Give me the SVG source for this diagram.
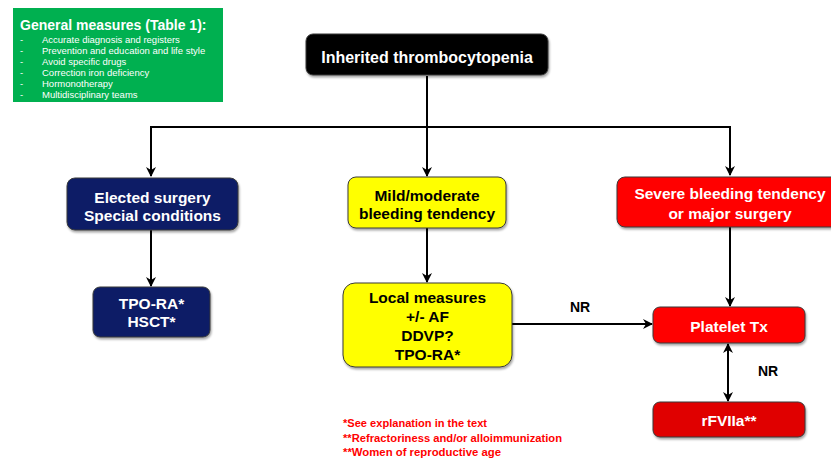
<svg xmlns="http://www.w3.org/2000/svg" width="831" height="459" viewBox="0 0 831 459">
<style>
.box{stroke:#3a3a3a;stroke-width:1}
.t{font-family:"Liberation Sans",Arial,sans-serif;font-weight:bold;font-size:15.5px;text-anchor:middle}
.w{fill:#ffffff}
.k{fill:#000000}
.item{font-family:"Liberation Sans",Arial,sans-serif;font-size:9.5px;fill:#ffffff}
.fn{font-family:"Liberation Sans",Arial,sans-serif;font-weight:bold;font-size:11px;fill:#ff0000}
.ln{fill:none;stroke:#000;stroke-width:2}
.nr{font-family:"Liberation Sans",Arial,sans-serif;font-weight:bold;font-size:14px;fill:#000;text-anchor:middle}
</style>
<defs>
<marker id="ah" viewBox="0 0 10 10" refX="9" refY="5" markerWidth="5" markerHeight="5" orient="auto-start-reverse" markerUnits="strokeWidth">
<path d="M0,0 L10,5 L0,10 L3,5 Z" fill="#000"/>
</marker>
<filter id="sh" x="-10%" y="-10%" width="120%" height="130%">
<feDropShadow dx="1" dy="2" stdDeviation="1.2" flood-color="#000" flood-opacity="0.35"/>
</filter>
</defs>
<rect width="831" height="459" fill="#ffffff"/>

<g id="general-measures">
<rect x="13" y="8" width="210" height="94" fill="#00b050"/>
<text x="20" y="30" style="font-family:'Liberation Sans',Arial,sans-serif;font-weight:bold;font-size:14px;fill:#fff">General measures (Table 1):</text>
<g class="item">
<text x="20" y="42.5">-</text><text x="42" y="42.5">Accurate diagnosis and registers</text>
<text x="20" y="53.5">-</text><text x="42" y="53.5">Prevention and education and life style</text>
<text x="20" y="64.5">-</text><text x="42" y="64.5">Avoid specific drugs</text>
<text x="20" y="75.5">-</text><text x="42" y="75.5">Correction iron deficiency</text>
<text x="20" y="86.5">-</text><text x="42" y="86.5">Hormonotherapy</text>
<text x="20" y="98">-</text><text x="42" y="98">Multidisciplinary teams</text>
</g>
</g>

<g id="connectors">
<line class="ln" x1="427" y1="76" x2="427" y2="127"/>
<line class="ln" x1="150" y1="127" x2="731" y2="127"/>
<line class="ln" x1="151" y1="127" x2="151" y2="176" marker-end="url(#ah)"/>
<line class="ln" x1="427" y1="127" x2="427" y2="176" marker-end="url(#ah)"/>
<line class="ln" x1="730" y1="127" x2="730" y2="175" marker-end="url(#ah)"/>
<line class="ln" x1="151" y1="230" x2="151" y2="286" marker-end="url(#ah)"/>
<line class="ln" x1="427" y1="228" x2="427" y2="282" marker-end="url(#ah)"/>
<line class="ln" x1="730" y1="227" x2="730" y2="306" marker-end="url(#ah)"/>
<line class="ln" x1="512" y1="324" x2="652" y2="324" marker-end="url(#ah)"/>
<line class="ln" x1="728" y1="344" x2="728" y2="401" marker-start="url(#ah)" marker-end="url(#ah)"/>
<text class="nr" x="580" y="312">NR</text>
<text class="nr" x="768" y="376">NR</text>
</g>

<g id="inherited">
<rect class="box" x="306" y="34" width="242" height="41" rx="7" fill="#000" filter="url(#sh)"/>
<text class="t w" x="427" y="62.5" style="font-size:16px">Inherited thrombocytopenia</text>
</g>

<g id="elected">
<rect class="box" x="67" y="178" width="171" height="52" rx="8" fill="#0a1f66" filter="url(#sh)"/>
<text class="t w" x="152.5" y="202.5">Elected surgery</text>
<text class="t w" x="152.5" y="220.5">Special conditions</text>
</g>

<g id="tpo-hsct">
<rect class="box" x="93" y="287" width="117" height="50" rx="7" fill="#0a1f66" filter="url(#sh)"/>
<text class="t w" x="151.5" y="308.5">TPO-RA*</text>
<text class="t w" x="151.5" y="327">HSCT*</text>
</g>

<g id="mild">
<rect class="box" x="348" y="177" width="158" height="51" rx="8" fill="#ffff00" filter="url(#sh)"/>
<text class="t k" x="427" y="200.5">Mild/moderate</text>
<text class="t k" x="427" y="218.5">bleeding tendency</text>
</g>

<g id="local">
<rect class="box" x="343" y="283" width="169" height="84" rx="12" fill="#ffff00" filter="url(#sh)"/>
<text class="t k" x="427.5" y="302.5">Local measures</text>
<text class="t k" x="427.5" y="321.5">+/- AF</text>
<text class="t k" x="427.5" y="340.5">DDVP?</text>
<text class="t k" x="427.5" y="359.5">TPO-RA*</text>
</g>

<g id="severe">
<rect class="box" x="617" y="177" width="226" height="50" rx="8" fill="#ff0000" filter="url(#sh)"/>
<text class="t w" x="730" y="199">Severe bleeding tendency</text>
<text class="t w" x="730" y="218.5">or major surgery</text>
</g>

<g id="platelet">
<rect class="box" x="653" y="307" width="152" height="36" rx="7" fill="#ff0000" filter="url(#sh)"/>
<text class="t w" x="729" y="331.5">Platelet Tx</text>
</g>

<g id="rfviia">
<rect class="box" x="653" y="402" width="152" height="35" rx="7" fill="#e00000" filter="url(#sh)"/>
<text class="t w" x="729" y="426">rFVIIa**</text>
</g>

<g id="footnotes">
<text class="fn" x="343" y="427" textLength="144" lengthAdjust="spacingAndGlyphs">*See explanation in the text</text>
<text class="fn" x="343" y="441.5" textLength="219" lengthAdjust="spacingAndGlyphs">**Refractoriness and/or alloimmunization</text>
<text class="fn" x="343" y="456" textLength="158" lengthAdjust="spacingAndGlyphs">**Women of reproductive age</text>
</g>
</svg>
